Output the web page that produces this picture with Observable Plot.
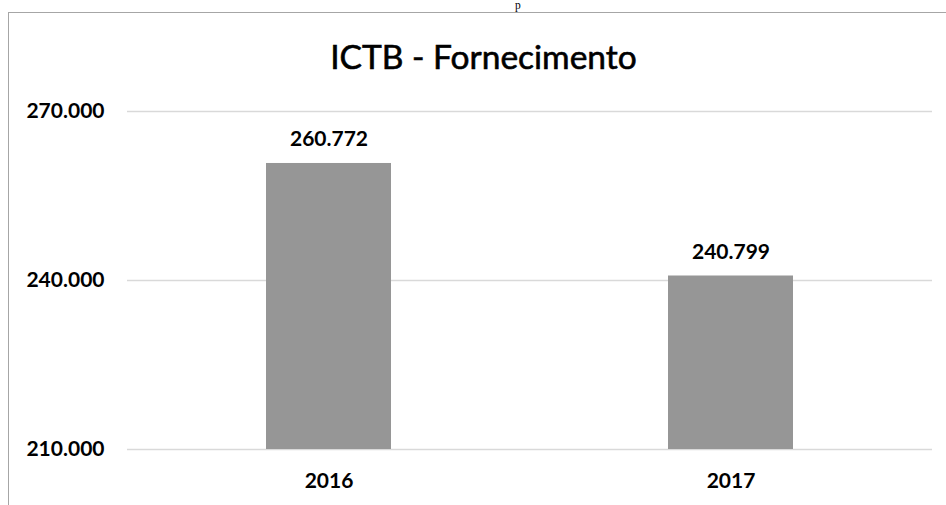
<!DOCTYPE html>
<html>
<head>
<meta charset="utf-8">
<script src="https://cdn.jsdelivr.net/npm/d3@7"></script>
<script src="https://cdn.jsdelivr.net/npm/@observablehq/plot@0.6"></script>
<style>
  html, body { margin: 0; padding: 0; background: #fff; }
  body { width: 946px; height: 505px; position: relative; overflow: hidden; font-family: Lato, "Open Sans", sans-serif; }
  #frame { position: absolute; left: 8px; top: 12px; right: 0; bottom: 0; border-top: 1.5px solid #a6a6a6; border-left: 1.5px solid #a6a6a6; box-sizing: border-box; }
  #above { position: absolute; left: 515px; top: 0; line-height: 11px; font-family: "Liberation Serif", serif; font-size: 11.5px; color: #000; }
  #title { position: absolute; left: 0; width: 967px; top: 36px; text-align: center; font-size: 33.5px; color: #000; font-weight: 400; white-space: nowrap; -webkit-text-stroke: 0.6px #000; }
  #chart { position: absolute; left: 0; top: 0; }
</style>
</head>
<body>
<div id="above">p</div>
<div id="frame"></div>
<div id="chart"></div>
<div id="title">ICTB - Fornecimento</div>
<script>
const years = ["2016", "2017"];
const values = [260772, 240799];
const yTicks = [210000, 240000, 270000];

const data = years.map((y, i) => ({year: y, value: values[i]}));
const fmt = d3.formatLocale({decimal: ",", thousands: ".", grouping: [3], currency: ["", ""]}).format(",");

const chart = Plot.plot({
  width: 946,
  height: 505,
  marginLeft: 127,
  marginRight: 14,
  marginTop: 111,
  marginBottom: 56,
  style: {fontFamily: "Lato, sans-serif", background: "transparent", color: "#000"},
  x: {domain: years, paddingInner: 0.69, paddingOuter: 0.345, label: null},
  y: {domain: [210000, 270000], label: null},
  marks: [
    Plot.gridY(yTicks, {stroke: "#d9d9d9", strokeOpacity: 1, strokeWidth: 1.5}),
    Plot.barY(data, {x: "year", y1: 210000, y2: "value", fill: "#969696"}),
    Plot.text(data, {x: "year", y: "value", text: d => fmt(d.value), dy: -17, lineAnchor: "bottom", fontSize: 21, fontWeight: "bold", fill: "#000"}),
    Plot.axisY(yTicks, {tickSize: 0, tickPadding: 23, tickFormat: fmt, fontSize: 21, fontWeight: "bold", label: null}),
    Plot.axisX({tickSize: 0, tickPadding: 24, fontSize: 21, fontWeight: "bold", label: null})
  ]
});
document.getElementById("chart").appendChild(chart);
</script>
</body>
</html>
